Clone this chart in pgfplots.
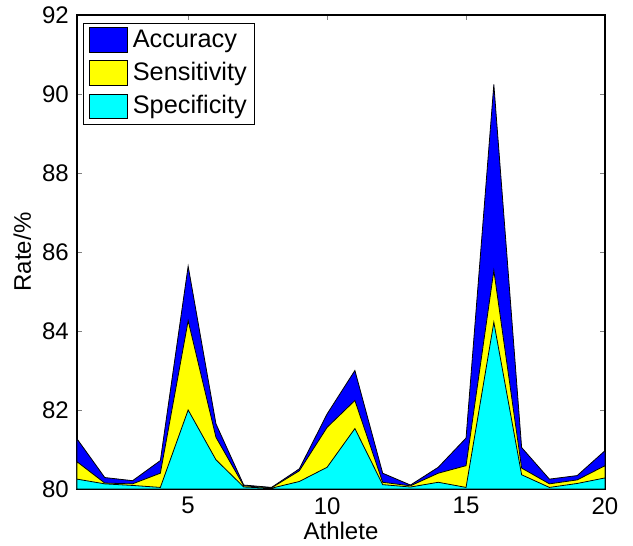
\documentclass[border=0pt]{standalone}
\usepackage{fontspec}
\setmainfont{Liberation Sans}
\usepackage{pgfplots}
\pgfplotsset{compat=1.18}
\definecolor{mblue}{rgb}{0,0,1}
\definecolor{myellow}{rgb}{1,1,0}
\definecolor{mcyan}{rgb}{0,1,1}
\begin{document}
\fontsize{18}{21}\selectfont
\begin{tikzpicture}
\useasboundingbox (-57.75pt,-42.75pt) rectangle (417pt,366.75pt);
\begin{axis}[
  at={(0,0)}, anchor=south west,
  scale only axis, width=396pt, height=355.5pt,
  xmin=1, xmax=20, ymin=80, ymax=92,
  xtick={5,10,15,20}, ytick={80,82,...,92},
  tick align=inside, tick pos=both,
  major tick length=4pt,
  /pgf/number format/assume math mode=true,
  tick label style={font=\fontsize{18}{21}\selectfont},
  label style={font=\fontsize{18}{21}\selectfont},
  xlabel={Athlete}, ylabel={Rate/\%},
  xlabel style={yshift=6pt},
  ylabel style={yshift=-4pt},
  axis line style={line width=0.8pt},
  legend style={at={(axis description cs:0.011,0.984)}, anchor=north west,
    font=\fontsize{19}{22}\selectfont, draw=black, line width=0.8pt,
    inner xsep=4pt, inner ysep=3pt, row sep=4.5pt,
    /tikz/every odd column/.append style={column sep=2pt}},
  legend cell align=left,
  legend image code/.code={\draw[#1, line width=0.6pt] (0pt,-9.3pt) rectangle (28.5pt,9.3pt);},
]
\addplot[fill=mblue, draw=black, line width=0.6pt] coordinates {
(1,81.27) (2,80.29) (3,80.21) (4,80.72) (5,85.64) (6,81.65) (7,80.10) (8,80.04) (9,80.51) (10,81.90)
(11,83.00) (12,80.40) (13,80.10) (14,80.55) (15,81.29) (16,90.24) (17,81.05) (18,80.25) (19,80.34) (20,80.97)
} \closedcycle;
\addlegendentry{Accuracy}
\addplot[fill=myellow, draw=black, line width=0.6pt] coordinates {
(1,80.69) (2,80.15) (3,80.13) (4,80.40) (5,84.26) (6,81.31) (7,80.08) (8,80.03) (9,80.46) (10,81.56)
(11,82.24) (12,80.17) (13,80.08) (14,80.40) (15,80.59) (16,85.53) (17,80.53) (18,80.13) (19,80.23) (20,80.59)
} \closedcycle;
\addlegendentry{Sensitivity}
\addplot[fill=mcyan, draw=black, line width=0.6pt] coordinates {
(1,80.25) (2,80.13) (3,80.09) (4,80.04) (5,82.00) (6,80.74) (7,80.05) (8,80.02) (9,80.19) (10,80.55)
(11,81.53) (12,80.11) (13,80.05) (14,80.17) (15,80.04) (16,84.22) (17,80.36) (18,80.04) (19,80.14) (20,80.28)
} \closedcycle;
\addlegendentry{Specificity}
\end{axis}
\end{tikzpicture}
\end{document}
